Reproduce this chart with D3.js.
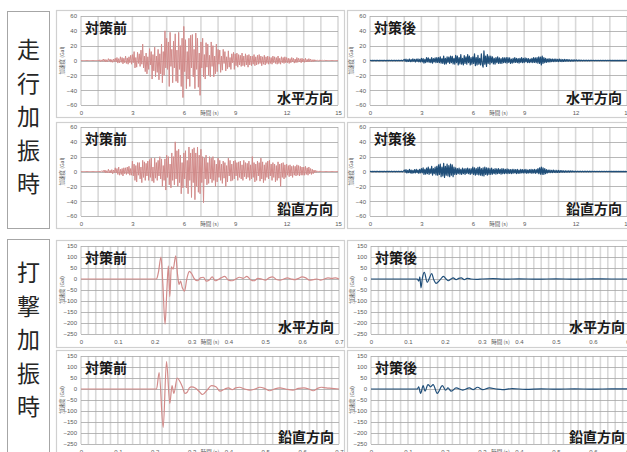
<!DOCTYPE html>
<html><head><meta charset="utf-8">
<script src="https://cdn.jsdelivr.net/npm/d3@7"></script>
<style>body{margin:0;background:#fff} svg{display:block}</style>
</head><body><svg id="c" width="627" height="452"></svg>
<script>
// ---------- DATA ----------
const sectionLabels = ["走行加振時", "打撃加振時"];
const stateLabels = ["対策前", "対策後"];
const dirLabels = ["水平方向", "鉛直方向"];
const xTitle = "時間 (s)";
const yTitle = "加速度 (Gal)";

// running excitation: samples every 0.05 s from 0 to 15 s (one row = 1 s)
const runStep = 0.05;
const runTicksX = [0, 3, 6, 9, 12, 15];
const runTicksY = [-60, -40, -20, 0, 20, 40, 60];
const runDomainX = [0, 15];
const runDomainY = [-60, 60];

const runHorizBefore = [
  0,0,0,0,0,0,0,0,0,0,0,0,0,0,0,0,0,0,0,0,
  0.5,-0.8,1,-1.5,0.8,-1,2,-1.2,1.5,-2,1,-1.5,2.5,-1,1.8,-2.2,1.2,-2.5,2,-1.5,
  3,-2,4,-3.5,2.5,-3,5,-2.5,4,-4.5,3,-3,6,-4,3.5,-5,5,-3,7,-5,
  8,-3,12,-10,4,-9,11,-4,9,-8,14,-5,22,-10,6,-15,10,-18,5,-12,
  16,-6,12,-25,8,-14,18,-22,6,-16,15,-26,9,-18,22,-30,12,-20,40,-10,
  30,-12,25,-35,38,-8,15,-30,26,-10,36,-28,14,-30,38,-12,20,-35,30,-50,
  46,-15,28,-38,12,-25,30,-35,34,-10,35,-22,15,-38,37,-12,30,-36,10,-47,
  25,-10,30,-22,8,-25,24,-9,22,-20,7,-22,25,-8,20,-22,6,-18,22,-15,
  15,-5,14,-16,6,-13,15,-4,12,-14,5,-11,13,-9,4,-12,9,-3,11,-12,
  9,-7,10,-9,8,-6,7,-8,10,-7,6,-8,9,-6,7,-9,8,-6,6,-7,
  6,-5,8,-7,5,-6,7,-5,8,-4,6,-7,5,-5,7,-6,5,-4,6,-5,
  5,-4,4,-5,6,-3,5,-4,4,-5,6,-4,3,-5,5,-3,4,-4,5,-3,
  4,-3,3,-4,2.5,-3,4,-2,3,-3.5,2,-3,4,-2.5,3,-2,2.5,-3,3,-2,
  2,-2.5,3,-2,1.5,-2,2.5,-1.5,2,-1.5,1,-1.5,1.2,-1,0.8,-0.8,0.5,-0.5,0.4,-0.3,
  0.3,-0.3,0.2,-0.2,0.2,0,0,0,0,0,0,0,0,0,0,0,0,0,0,0,
  0
];
const runVertBefore = [
  0,0,0,0,0,0,0,0,0,0,0,0,0,0,0,0,0,0,0,0,
  0,0,0,0,0.5,-0.5,1.5,-1,2,-2,1,-1.5,3,-2,1.5,-2,2.5,-3,2,-1.5,
  5,-2,4,-4,6,-5,3,-4,4,-6,5,-3,5,-4,6,-3,7,-5,4,-5,
  14,-6,10,-12,8,-14,12,-5,12,-10,6,-15,15,-8,13,-12,11,-6,14,-12,
  16,-8,18,-13,6,-15,18,-9,12,-12,15,-6,20,-10,17,-20,8,-12,17,-25,
  22,-8,20,-18,10,-22,25,-12,20,-18,40,-10,28,-20,30,-15,22,-30,12,-22,
  25,-10,28,-22,15,-30,33,-12,25,-35,30,-15,32,-38,25,-20,33,-28,22,-30,
  30,-15,20,-42,18,-10,22,-18,12,-16,20,-10,18,-15,20,-12,15,-20,10,-14,
  18,-8,15,-12,10,-16,14,-9,12,-20,8,-14,18,-6,15,-13,10,-12,14,-10,
  15,-6,12,-12,13,-8,14,-10,9,-12,15,-7,12,-10,11,-8,14,-12,9,-10,
  20,-8,12,-14,10,-12,14,-6,12,-13,18,-10,13,-15,9,-12,12,-8,14,-10,
  15,-6,10,-12,12,-8,10,-14,8,-12,13,-9,10,-20,11,-8,12,-10,9,-8,
  10,-5,8,-7,9,-6,7,-8,8,-5,7,-6,9,-5,8,-6,7,-5,6,-5,
  6,-5,7,-4,5,-5,6,-3,4,-4,3,-3,2,-1.5,1.5,-1,0.8,-0.5,0.3,-0.3,
  0.2,0,0,0,0,0,0,0,0,0,0,0,0,0,0,0,0,0,0,0,
  0
];
const runHorizAfter = [
  0,0.3,-0.3,0.2,-0.2,0.3,-0.3,0.2,-0.2,0.3,-0.3,0.2,-0.2,0.3,-0.3,0.2,-0.2,0.3,-0.3,0.2,
  -0.3,0.4,-0.4,0.3,-0.3,0.4,-0.4,0.3,-0.3,0.4,-0.4,0.3,-0.3,0.4,-0.4,0.3,-0.3,0.4,-0.4,0.3,
  1.5,-1,1.8,-1.5,1,-1.2,2,-1.6,1.2,-1.5,2.2,-1,1.5,-2,1.8,-1.2,2.2,-1.8,1.5,-2,
  3,-2,2.5,-3.5,1.5,-3,4,-2,3.5,-2.5,2,-3,4,-3.5,2.5,-2,3.5,-3,4,-2.5,
  4,-3,5,-3.5,2.5,-4,6,-5,3,-4.5,5,-2.5,4.5,-4,6,-3,5.5,-4.5,3,-5,
  7,-3,6,-6,4,-4.5,8,-5,3,-6,6.5,-4,5,-5,8,-3,6,-6,4,-5,
  5,-4,9,-7,4,-6,7,-5,3,-6,9,-5,-9,13,-5,6,-8,8,-4,6,
  -5,6,-3,5,-4.5,3,-5,4,-3,5,-4,3.5,-4,2.5,-4,4,-3,3.5,-3,4,
  -3.5,4,-2.5,3.5,-4,2,-3.5,3,-3,4,-2.5,3,-3,2.5,-3.5,3,-2.5,4,-3,3,
  -3,3.5,-2,3,-3,2.5,-3,2,-2.5,3,-3,4,-2.5,3.5,-3,4,-3.5,5,-4,4.5,
  -6,6,-4,4,-3,3,-2.5,2,-2,2.5,-2,2,-1.5,2,-1.5,1.8,-1.5,2,-1.2,1.5,
  -1.5,2,-1.2,1.5,-1.5,1.2,-1.2,1.5,-1,1.2,-1,1.2,-0.8,1,-1,0.8,-0.8,1,-0.8,0.8,
  -0.6,0.8,-0.6,0.6,-0.5,0.6,-0.5,0.5,-0.5,0.5,-0.4,0.5,-0.4,0.4,-0.4,0.4,-0.4,0.4,-0.3,0.4,
  -0.3,0.3,-0.3,0.3,-0.3,0.3,-0.3,0.3,-0.3,0.3,-0.3,0.3,-0.3,0.3,-0.3,0.3,-0.3,0.3,-0.3,0.3,
  -0.2,0.2,-0.2,0.2,-0.2,0.2,-0.2,0.2,-0.2,0.2,-0.2,0.2,-0.2,0.2,-0.2,0.2,-0.2,0.2,-0.2,0.2,
  0
];
const runVertAfter = [
  0,0.3,-0.3,0.2,-0.2,0.3,-0.3,0.2,-0.2,0.3,-0.3,0.2,-0.2,0.3,-0.3,0.2,-0.2,0.3,-0.3,0.2,
  -0.3,0.4,-0.4,0.3,-0.3,0.4,-0.4,0.3,-0.3,0.4,-0.4,0.3,-0.3,0.4,-0.4,0.3,-0.3,0.4,-0.4,0.3,
  2,-1,2.5,-2,1.5,-1.5,3,-2,2,-2.5,1.5,-1.8,2.5,-2,3,-1.5,2,-2.5,3,-2,
  4,-2,5,-4,3,-3.5,4.5,-3,6,-4,3.5,-2.5,7,-5,4,-3,6,-4.5,7,-5,
  9,-4,10,-7,6,-6,11,-8,7,-5,10,-6,8,-7,10,-5,9,-7,6,-4,
  5,-4,4,-3,4.5,-3.5,3,-4,4.5,-3,3.5,-4,4,-2.5,4.5,-3,3.5,-4,4,-3,
  6,-4,5,-5,4,-4,5.5,-4.5,6,-5,4,-5.5,5,-6,6,-4,5,-5,4.5,-4,
  4,-4,4.5,-3.5,3,-3,4,-3.5,3.5,-3,4,-2.5,3,-3.5,4,-3,3.5,-3,3,-2.5,
  3.5,-3,3,-2.5,2.5,-3,3,-2.5,3,-2,2.5,-3,3,-2.5,2,-2.5,3,-2,2.5,-2,
  2.5,-2,3,-2.5,2,-2,2.5,-2,3,-2.5,2.5,-2,3,-2.5,2.5,-2,4,-3,5,-3.5,
  6,-4,5,-4,4,-3,2.5,-2,2,-1.5,2,-1.5,1.5,-1.5,2,-1.2,1.5,-1.5,1.5,-1.2,
  1.5,-1.2,1.2,-1,1.2,-1,1,-1,1,-0.8,0.8,-0.8,1,-0.8,0.8,-0.6,0.8,-0.6,0.6,-0.6,
  0.5,-0.5,0.5,-0.5,0.5,-0.5,0.5,-0.5,0.5,-0.5,0.5,-0.5,0.5,-0.5,0.5,-0.5,0.5,-0.5,0.5,-0.5,
  0.3,-0.3,0.3,-0.3,0.3,-0.3,0.3,-0.3,0.3,-0.3,0.3,-0.3,0.3,-0.3,0.3,-0.3,0.3,-0.3,0.3,-0.3,
  0.2,-0.2,0.2,-0.2,0.2,-0.2,0.2,-0.2,0.2,-0.2,0.2,-0.2,0.2,-0.2,0.2,-0.2,0.2,-0.2,0.2,-0.2,
  0
];

// hammering excitation
const hitTicksX = [0, 0.1, 0.2, 0.3, 0.4, 0.5, 0.6, 0.7];
const hitTicksY = [-250, -200, -150, -100, -50, 0, 50, 100, 150];
const hitDomainX = [0, 0.7];
const hitDomainY = [-250, 150];

const hitHorizBeforeT = [0,0.205,0.210,0.217,0.222,0.228,0.233,0.237,0.241,0.245,0.250,0.257,0.262,0.266,0.270,0.275,0.281,0.287,0.294,0.300,0.308,0.316,0.324,0.332,0.340,0.348,0.356,0.364,0.372,0.380,0.390,0.400,0.410,0.420,0.430,0.440,0.450,0.460,0.470,0.480,0.490,0.500,0.510,0.520,0.530,0.540,0.550,0.560,0.570,0.580,0.590,0.600,0.610,0.620,0.630,0.640,0.650,0.660,0.670,0.680,0.690,0.700];
const hitHorizBeforeV = [0,0,30,100,-20,-205,-50,60,-80,55,45,105,20,-25,-10,-40,-55,0,35,25,0,-8,5,8,-10,-5,10,-8,-3,5,12,-5,-8,0,8,3,12,-3,-8,3,0,-5,5,10,-2,-5,0,5,0,-3,3,10,5,-5,-3,0,-5,0,5,3,5,0];
const hitVertBeforeT = [0,0.205,0.212,0.223,0.232,0.241,0.247,0.252,0.261,0.268,0.275,0.282,0.288,0.294,0.300,0.310,0.320,0.330,0.342,0.354,0.366,0.377,0.390,0.400,0.410,0.420,0.430,0.444,0.458,0.472,0.485,0.498,0.512,0.525,0.540,0.555,0.575,0.590,0.605,0.618,0.630,0.642,0.652,0.665,0.680,0.700];
const hitVertBeforeV = [0,0,75,-175,125,-65,15,-20,50,35,10,-20,-15,5,10,5,-10,-25,-5,15,10,-10,0,5,-3,5,8,0,-5,0,8,3,-8,0,5,0,-5,3,5,0,-8,3,8,5,3,0];
const hitHorizAfterT = [0,0.125,0.129,0.132,0.135,0.139,0.144,0.152,0.158,0.164,0.170,0.176,0.186,0.196,0.203,0.209,0.216,0.222,0.230,0.237,0.244,0.252,0.260,0.270,0.285,0.300,0.330,0.360,0.400,0.450,0.500,0.550,0.600,0.650,0.700];
const hitHorizAfterV = [0,0,-10,10,-40,5,30,-15,5,25,-5,-20,-5,12,0,-8,0,5,-3,3,5,-3,3,0,-2,0,2,-1,1,-1,1,-1,1,0,0];
const hitVertAfterT = [0,0.125,0.129,0.134,0.141,0.146,0.154,0.161,0.168,0.179,0.193,0.202,0.208,0.217,0.230,0.248,0.266,0.276,0.288,0.302,0.320,0.338,0.355,0.382,0.418,0.460,0.500,0.550,0.600,0.650,0.700];
const hitVertAfterV = [0,0,10,-20,15,-10,20,10,20,-20,15,-5,5,-10,5,-5,5,-3,8,-3,5,0,-3,2,-2,1,-1,1,-1,1,0];

// ---------- DRAWING ----------
const svg = d3.select('#c');
const JP = '"Noto Sans CJK JP", "Noto Sans", sans-serif';
const colBefore = '#d28b8a';
const colAfter = '#1f4e79';

// section label boxes
const secBoxes = [{x:7, y:11, w:42, h:217, cy:115}, {x:7, y:239, w:42, h:230, cy:338}];
secBoxes.forEach((b, i) => {
  svg.append('rect').attr('x', b.x + 0.5).attr('y', b.y + 0.5).attr('width', b.w).attr('height', b.h)
    .attr('fill', 'none').attr('stroke', '#a6a6a6').attr('stroke-width', 1);
  const chars = Array.from(sectionLabels[i]);
  const gap = 33.5;
  chars.forEach((ch, k) => {
    svg.append('text').attr('x', b.x + b.w / 2 + 0.5).attr('y', b.cy + (k - 2) * gap)
      .attr('text-anchor', 'middle').attr('dominant-baseline', 'central')
      .attr('font-family', JP).attr('font-size', 23).attr('fill', '#262626').text(ch);
  });
});

function panel(o) {
  const g = svg.append('g');
  g.append('rect').attr('x', o.box[0] + 0.5).attr('y', o.box[1] + 0.5)
    .attr('width', o.box[2]).attr('height', o.box[3])
    .attr('fill', '#fff').attr('stroke', '#d0d0d0').attr('stroke-width', 1.2);
  const x = d3.scaleLinear().domain(o.dx).range([o.px0, o.px1]);
  const y = d3.scaleLinear().domain(o.dy).range([o.py1, o.py0]);
  // vertical grid
  g.append('g').selectAll('line').data(x.ticks(o.vgrid)).join('line')
    .attr('x1', d => x(d)).attr('x2', d => x(d)).attr('y1', o.py0).attr('y2', o.py1)
    .attr('stroke', '#d9d9d9').attr('stroke-width', 1.6);
  // horizontal grid
  g.append('g').selectAll('line').data(o.ty).join('line')
    .attr('x1', o.px0).attr('x2', o.px1).attr('y1', d => Math.round(y(d)) + 0.5).attr('y2', d => Math.round(y(d)) + 0.5)
    .attr('stroke', '#a6a6a6').attr('stroke-width', 0.8);
  // y tick labels
  g.append('g').attr('transform', `translate(${o.px0},0)`)
    .call(d3.axisLeft(y).tickValues(o.ty).tickSize(0).tickPadding(4))
    .call(a => { a.select('.domain').remove();
      a.selectAll('text').attr('font-family', 'Liberation Sans, Arial, sans-serif').attr('font-size', 6).attr('fill', '#595959'); });
  // x tick labels
  g.append('g').attr('transform', `translate(0,${o.py1})`)
    .call(d3.axisBottom(x).tickValues(o.tx).tickSize(0).tickPadding(5.6).tickFormat(d3.format('')))
    .call(a => { a.select('.domain').remove();
      a.selectAll('text').attr('font-family', 'Liberation Sans, Arial, sans-serif').attr('font-size', 6).attr('fill', '#595959'); });
  // axis titles
  g.append('text').attr('x', (o.px0 + o.px1) / 2).attr('y', o.py1 + 10)
    .attr('text-anchor', 'middle').attr('font-family', JP).attr('font-size', 5.5).attr('fill', '#595959').text(xTitle);
  g.append('text').attr('transform', `translate(${o.px0 - 17},${(o.py0 + o.py1) / 2}) rotate(-90)`)
    .attr('text-anchor', 'middle').attr('font-family', JP).attr('font-size', 5.2).attr('fill', '#595959').text(yTitle);
  // series
  const pts = o.v.map((v, i) => [o.t ? o.t[i] : i * o.step, v]);
  const line = d3.line().x(d => x(d[0])).y(d => y(d[1]));
  if (o.t) line.curve(d3.curveMonotoneX);
  g.append('path').datum(pts).attr('d', line).attr('fill', 'none')
    .attr('stroke', o.color).attr('stroke-width', o.lw).attr('stroke-linejoin', 'round');
  // labels
  g.append('text').attr('x', o.px0 + 4).attr('y', o.py0 + 16.5)
    .attr('font-family', JP).attr('font-size', 14).attr('font-weight', 'bold').attr('fill', '#1a1a1a').text(o.state);
  g.append('text').attr('x', o.px1 - 5).attr('y', o.py1 - 2.5).attr('text-anchor', 'end')
    .attr('font-family', JP).attr('font-size', 14).attr('font-weight', 'bold').attr('fill', '#1a1a1a').text(o.dir);
}

const cols = [
  {box:[56, 288], run:[81, 338], hit:[81, 339]},
  {box:[347, 300], run:[370, 627], hit:[371, 630]}
];
const rows = [
  {box:[10, 107], plot:[16, 105], kind:'run'},
  {box:[122, 106], plot:[127, 216], kind:'run'},
  {box:[240, 107], plot:[246, 334], kind:'hit'},
  {box:[350, 110], plot:[356, 444], kind:'hit'}
];
const seriesGrid = [
  [{v:runHorizBefore}, {v:runHorizAfter}],
  [{v:runVertBefore}, {v:runVertAfter}],
  [{t:hitHorizBeforeT, v:hitHorizBeforeV}, {t:hitHorizAfterT, v:hitHorizAfterV}],
  [{t:hitVertBeforeT, v:hitVertBeforeV}, {t:hitVertAfterT, v:hitVertAfterV}]
];

rows.forEach((r, ri) => {
  cols.forEach((c, ci) => {
    const run = r.kind === 'run';
    const s = seriesGrid[ri][ci];
    panel({
      box:[c.box[0], r.box[0], c.box[1], r.box[1]],
      px0: run ? c.run[0] : c.hit[0], px1: run ? c.run[1] : c.hit[1],
      py0: r.plot[0], py1: r.plot[1],
      dx: run ? runDomainX : hitDomainX, dy: run ? runDomainY : hitDomainY,
      tx: run ? runTicksX : hitTicksX, ty: run ? runTicksY : hitTicksY,
      vgrid: run ? 15 : 35,
      t: s.t, v: s.v, step: runStep,
      color: ci === 0 ? colBefore : colAfter,
      lw: run ? (ci === 0 ? 1.0 : 1.2) : 1.2,
      state: stateLabels[ci], dir: dirLabels[ri % 2]
    });
  });
});
</script></body></html>
